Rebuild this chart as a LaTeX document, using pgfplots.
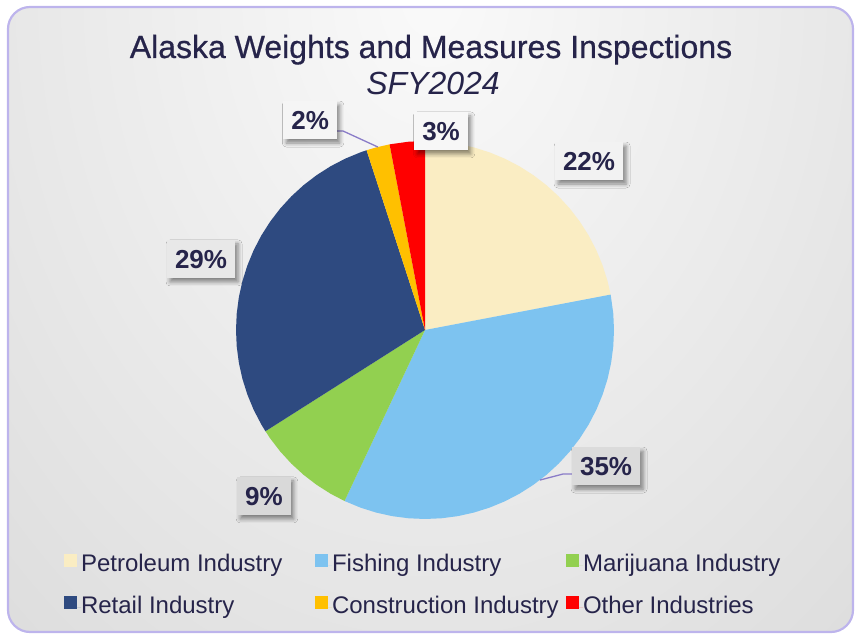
\documentclass[border=0pt]{standalone}
\usepackage{fontspec}
\setmainfont{Liberation Sans}
\newfontfamily\titlefont[FakeBold=0.6]{Liberation Sans}
\usepackage{pgfplots}
\pgfplotsset{compat=1.18}
\usetikzlibrary{shadows.blur}
\definecolor{cPet}{HTML}{FAEDC3}
\definecolor{cFish}{HTML}{7DC3F0}
\definecolor{cMar}{HTML}{92D050}
\definecolor{cRet}{HTML}{2E4A80}
\definecolor{cCon}{HTML}{FFC000}
\definecolor{cOth}{HTML}{FF0000}
\definecolor{txt}{HTML}{26244A}
\definecolor{leader}{HTML}{8A7CC8}
\definecolor{frame}{HTML}{BDB4EC}
\tikzset{lbl/.style={text=txt, font=\fontsize{26bp}{30bp}\selectfont\bfseries,
  inner xsep=8bp, inner ysep=0pt, text height=19bp, text depth=0pt, minimum height=38bp,
  blur shadow={shadow xshift=3bp, shadow yshift=-4bp, shadow blur radius=4bp, shadow opacity=45}}}
\begin{document}
\begin{tikzpicture}
\path[use as bounding box] (0,0) rectangle (858bp,635bp);
\begin{scope}
\clip[rounded corners=22bp] (8bp,3bp) rectangle (853bp,628bp);
\shade[inner color=black!2, outer color=black!24] (432bp,640bp) ellipse [x radius=1272bp, y radius=1680bp];
\end{scope}
\draw[frame, line width=2.2bp, rounded corners=22bp] (8bp,3bp) rectangle (853bp,628bp);
\node[anchor=base, text=txt, font=\fontsize{32bp}{38bp}\titlefont] at (431bp,577bp) {Alaska Weights and Measures Inspections};
\node[anchor=base, text=txt, font=\fontsize{32bp}{38bp}\selectfont\itshape] at (433bp,540bp) {SFY2024};
\begin{axis}[at={(425bp,305bp)}, anchor=center, scale only axis,
  width=378bp, height=378bp, xmin=-1, xmax=1, ymin=-1, ymax=1,
  hide axis, clip=false,
  legend columns=3, legend cell align=left,
  legend style={at={(-0.455,-0.091)}, anchor=north west, draw=none, fill=none,
    inner sep=0pt, outer sep=0pt, column sep=0pt, row sep=18bp,
    font=\fontsize{24bp}{28bp}\selectfont, text=txt,
    nodes={inner sep=0pt, text height=18bp, text depth=6bp}},
  legend image code/.code={\fill[#1] (0bp,-2.0bp) rectangle (13bp,11.0bp); \path (0bp,0bp) -- (17bp,0bp);},
]
% Petroleum 22%
\addplot[fill=cPet, draw=none, data cs=polar] coordinates {(0,0) (90,1) (85,1) (80,1) (75,1) (70,1) (65,1) (60,1) (55,1) (50,1) (45,1) (40,1) (35,1) (30,1) (25,1) (20,1) (15,1) (10.8,1)} -- cycle;
\addlegendentry{\makebox[234bp][l]{Petroleum Industry}}
% Fishing 35%
\addplot[fill=cFish, draw=none, data cs=polar] coordinates {(0,0) (10.8,1) (5,1) (0,1) (-5,1) (-10,1) (-15,1) (-20,1) (-25,1) (-30,1) (-35,1) (-40,1) (-45,1) (-50,1) (-55,1) (-60,1) (-65,1) (-70,1) (-75,1) (-80,1) (-85,1) (-90,1) (-95,1) (-100,1) (-105,1) (-110,1) (-115.2,1)} -- cycle;
\addlegendentry{\makebox[234bp][l]{Fishing Industry}}
% Marijuana 9%
\addplot[fill=cMar, draw=none, data cs=polar] coordinates {(0,0) (-115.2,1) (-120,1) (-125,1) (-130,1) (-135,1) (-140,1) (-145,1) (-147.6,1)} -- cycle;
\addlegendentry{Marijuana Industry}
% Retail 29%
\addplot[fill=cRet, draw=none, data cs=polar] coordinates {(0,0) (-147.6,1) (-150,1) (-155,1) (-160,1) (-165,1) (-170,1) (-175,1) (-180,1) (-185,1) (-190,1) (-195,1) (-200,1) (-205,1) (-210,1) (-215,1) (-220,1) (-225,1) (-230,1) (-235,1) (-240,1) (-245,1) (-250,1) (-252,1)} -- cycle;
\addlegendentry{\makebox[234bp][l]{Retail Industry}}
% Construction 2%
\addplot[fill=cCon, draw=none, data cs=polar] coordinates {(0,0) (-252,1) (-255,1) (-259.2,1)} -- cycle;
\addlegendentry{\makebox[234bp][l]{Construction Industry}}
% Other 3%
\addplot[fill=cOth, draw=none, data cs=polar] coordinates {(0,0) (-259.2,1) (-265,1) (-270,1)} -- cycle;
\addlegendentry{Other Industries}
% leader lines
\addplot[forget plot, draw=leader, line width=1.3bp] coordinates {(-0.466,1.053) (-0.434,1.053) (-0.249,0.968)};
\addplot[forget plot, draw=leader, line width=1.3bp] coordinates {(0.783,-0.762) (0.730,-0.762) (0.608,-0.794)};
% data labels
\node[lbl, fill=black!5] at (axis cs:0.868,0.894) {22\%};
\node[lbl, fill=black!14] at (axis cs:0.958,-0.720) {35\%};
\node[lbl, fill=black!15] at (axis cs:-0.852,-0.878) {9\%};
\node[lbl, fill=black!9] at (axis cs:-1.185,0.376) {29\%};
\node[lbl, fill=black!4] at (axis cs:-0.608,1.111) {2\%};
\node[lbl, fill=black!3] at (axis cs:0.085,1.053) {3\%};
\end{axis}
\end{tikzpicture}
\end{document}
